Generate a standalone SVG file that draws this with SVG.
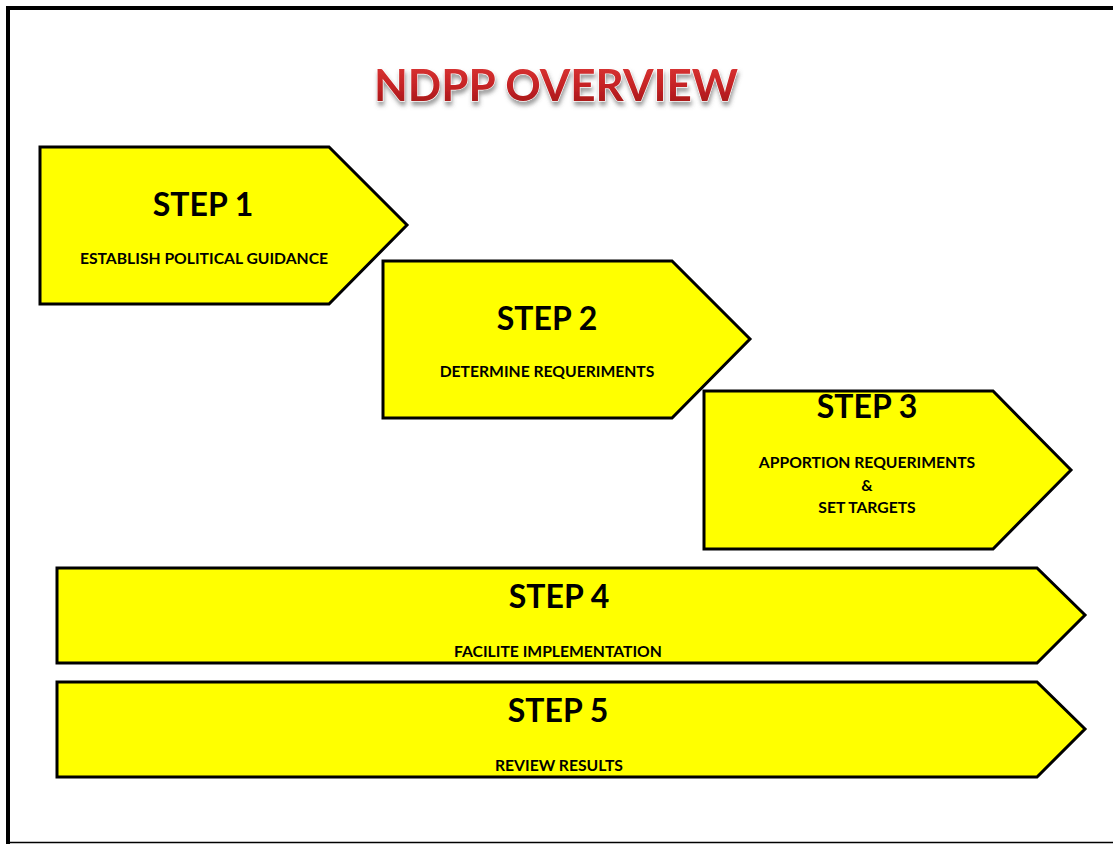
<svg xmlns="http://www.w3.org/2000/svg" width="1113" height="844" viewBox="0 0 1113 844">
  <defs>
    <linearGradient id="titleFill" x1="0" y1="0" x2="0" y2="1">
      <stop offset="0" stop-color="#e03a38"/>
      <stop offset="0.55" stop-color="#c42224"/>
      <stop offset="1" stop-color="#9c1618"/>
    </linearGradient>
    <filter id="titleShadow" x="-10%" y="-30%" width="120%" height="170%">
      <feGaussianBlur in="SourceAlpha" stdDeviation="2"/>
      <feOffset dx="1" dy="4" result="blur"/>
      <feFlood flood-color="#555" flood-opacity="0.6"/>
      <feComposite in2="blur" operator="in" result="shadow"/>
      <feMerge>
        <feMergeNode in="shadow"/>
        <feMergeNode in="SourceGraphic"/>
      </feMerge>
    </filter>
  </defs>
  <style>
    .step { fill: #ffff00; stroke: #000; stroke-width: 3; stroke-linejoin: miter; }
    .head { font-family: Lato, "Liberation Sans", sans-serif; font-weight: bold; font-size: 32px; fill: #000; text-anchor: middle; }
    .sub { font-family: Lato, "Liberation Sans", sans-serif; font-weight: bold; font-size: 15.7px; fill: #000; text-anchor: middle; }
    .title { font-family: Lato, "Liberation Sans", sans-serif; font-weight: bold; font-size: 44px; fill: url(#titleFill); stroke: #fff; stroke-width: 1; paint-order: stroke; text-anchor: middle; }
  </style>

  <rect width="1113" height="844" fill="#fff"/>
  <!-- page frame -->
  <path d="M8,844 V8 H1113" fill="none" stroke="#000" stroke-width="4"/>
  <line x1="8" y1="842.5" x2="1113" y2="842.5" stroke="#000" stroke-width="1.5"/>

  <text class="title" x="556" y="101" filter="url(#titleShadow)">NDPP OVERVIEW</text>

  <g id="connectors"/>

  <g id="step1">
    <path class="step" d="M40,147 H329 L407,225 L329,304 H40 Z"/>
    <text class="head" x="203" y="216">STEP 1</text>
    <text class="sub" x="204" y="264">ESTABLISH POLITICAL GUIDANCE</text>
  </g>

  <g id="step2">
    <path class="step" d="M383,261 H672 L750,339 L672,418 H383 Z"/>
    <text class="head" x="547" y="330">STEP 2</text>
    <text class="sub" x="547" y="377">DETERMINE REQUERIMENTS</text>
  </g>

  <g id="step3">
    <path class="step" d="M704,391 H993 L1071,470 L993,549 H704 Z"/>
    <text class="head" x="867" y="418">STEP 3</text>
    <text class="sub" x="867" y="468">APPORTION REQUERIMENTS</text>
    <text class="sub" x="867" y="491">&amp;</text>
    <text class="sub" x="867" y="513">SET TARGETS</text>
  </g>

  <g id="step4">
    <path class="step" d="M57,568 H1037 L1085,615 L1037,663 H57 Z"/>
    <text class="head" x="559" y="608">STEP 4</text>
    <text class="sub" x="558" y="657">FACILITE IMPLEMENTATION</text>
  </g>

  <g id="step5">
    <path class="step" d="M57,682 H1037 L1085,729 L1037,777 H57 Z"/>
    <text class="head" x="558" y="722">STEP 5</text>
    <text class="sub" x="559" y="771">REVIEW RESULTS</text>
  </g>
</svg>
